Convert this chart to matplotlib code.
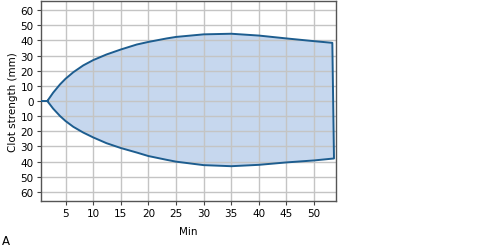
import matplotlib
matplotlib.use("Agg")
import matplotlib.pyplot as plt

# Clot strength trace (minutes, mm)
upper_min = [0.5, 1.7, 2.75, 4.0, 5, 6.4, 8.2, 10, 12.4, 15, 17.9, 20, 23.3, 25, 30, 35, 40, 45, 50, 53.3]
upper_mm = [0, 0, 5.5, 11, 14.7, 19, 23.5, 27, 30.7, 34, 37.3, 39, 41.3, 42.3, 44, 44.4, 43.2, 41.3, 39.5, 38.4]
lower_min = [0.5, 1.7, 2.75, 4.0, 5, 6.4, 8.2, 10, 12.4, 15, 17.9, 20, 23.3, 25, 30, 35, 40, 45, 50, 53.6]
lower_mm = [0, 0, -5, -9.9, -13.2, -17, -20.8, -24, -27.8, -31, -34, -36.3, -38.8, -40, -42.3, -43, -42.1, -40.5, -39.2, -37.9]

x_ticks = [5, 10, 15, 20, 25, 30, 35, 40, 45, 50]
y_ticks = [-60, -50, -40, -30, -20, -10, 0, 10, 20, 30, 40, 50, 60]

line_col = "#1d5d8f"
fill_col = "#c6d7ee"

fig = plt.figure(figsize=(5, 2.51), dpi=100)
ax = fig.add_axes([0.0814, 0.195, 0.591, 0.797])

# outline: upper edge, down the right side, back along the lower edge
path_x = upper_min + lower_min[::-1][:-1]
path_y = upper_mm + lower_mm[::-1][:-1]
ax.fill(path_x, path_y, color=fill_col, zorder=1, lw=0)
ax.plot(path_x, path_y, color=line_col, lw=1.4, zorder=3, solid_joinstyle="round")

ax.set_xlim(0.5, 54)
ax.set_ylim(-66, 66)
ax.set_xticks(x_ticks)
ax.set_yticks(y_ticks)
ax.set_yticklabels([str(abs(v)) for v in y_ticks])
ax.grid(True, color="#c4c4c4", lw=1.0)
for gl in ax.get_xgridlines() + ax.get_ygridlines():
    gl.set_zorder(2)

ax.tick_params(labelsize=7.5, length=3, width=0.8, color="#444444", pad=2)
for s in ax.spines.values():
    s.set_color("#555555")
    s.set_linewidth(1.0)

ax.set_xlabel("Min", fontsize=7.5, labelpad=6)
ax.set_ylabel("Clot strength (mm)", fontsize=7.5, labelpad=2)
fig.text(0.004, 0.022, "A", fontsize=8.5)

fig.savefig("out.png", dpi=100)
